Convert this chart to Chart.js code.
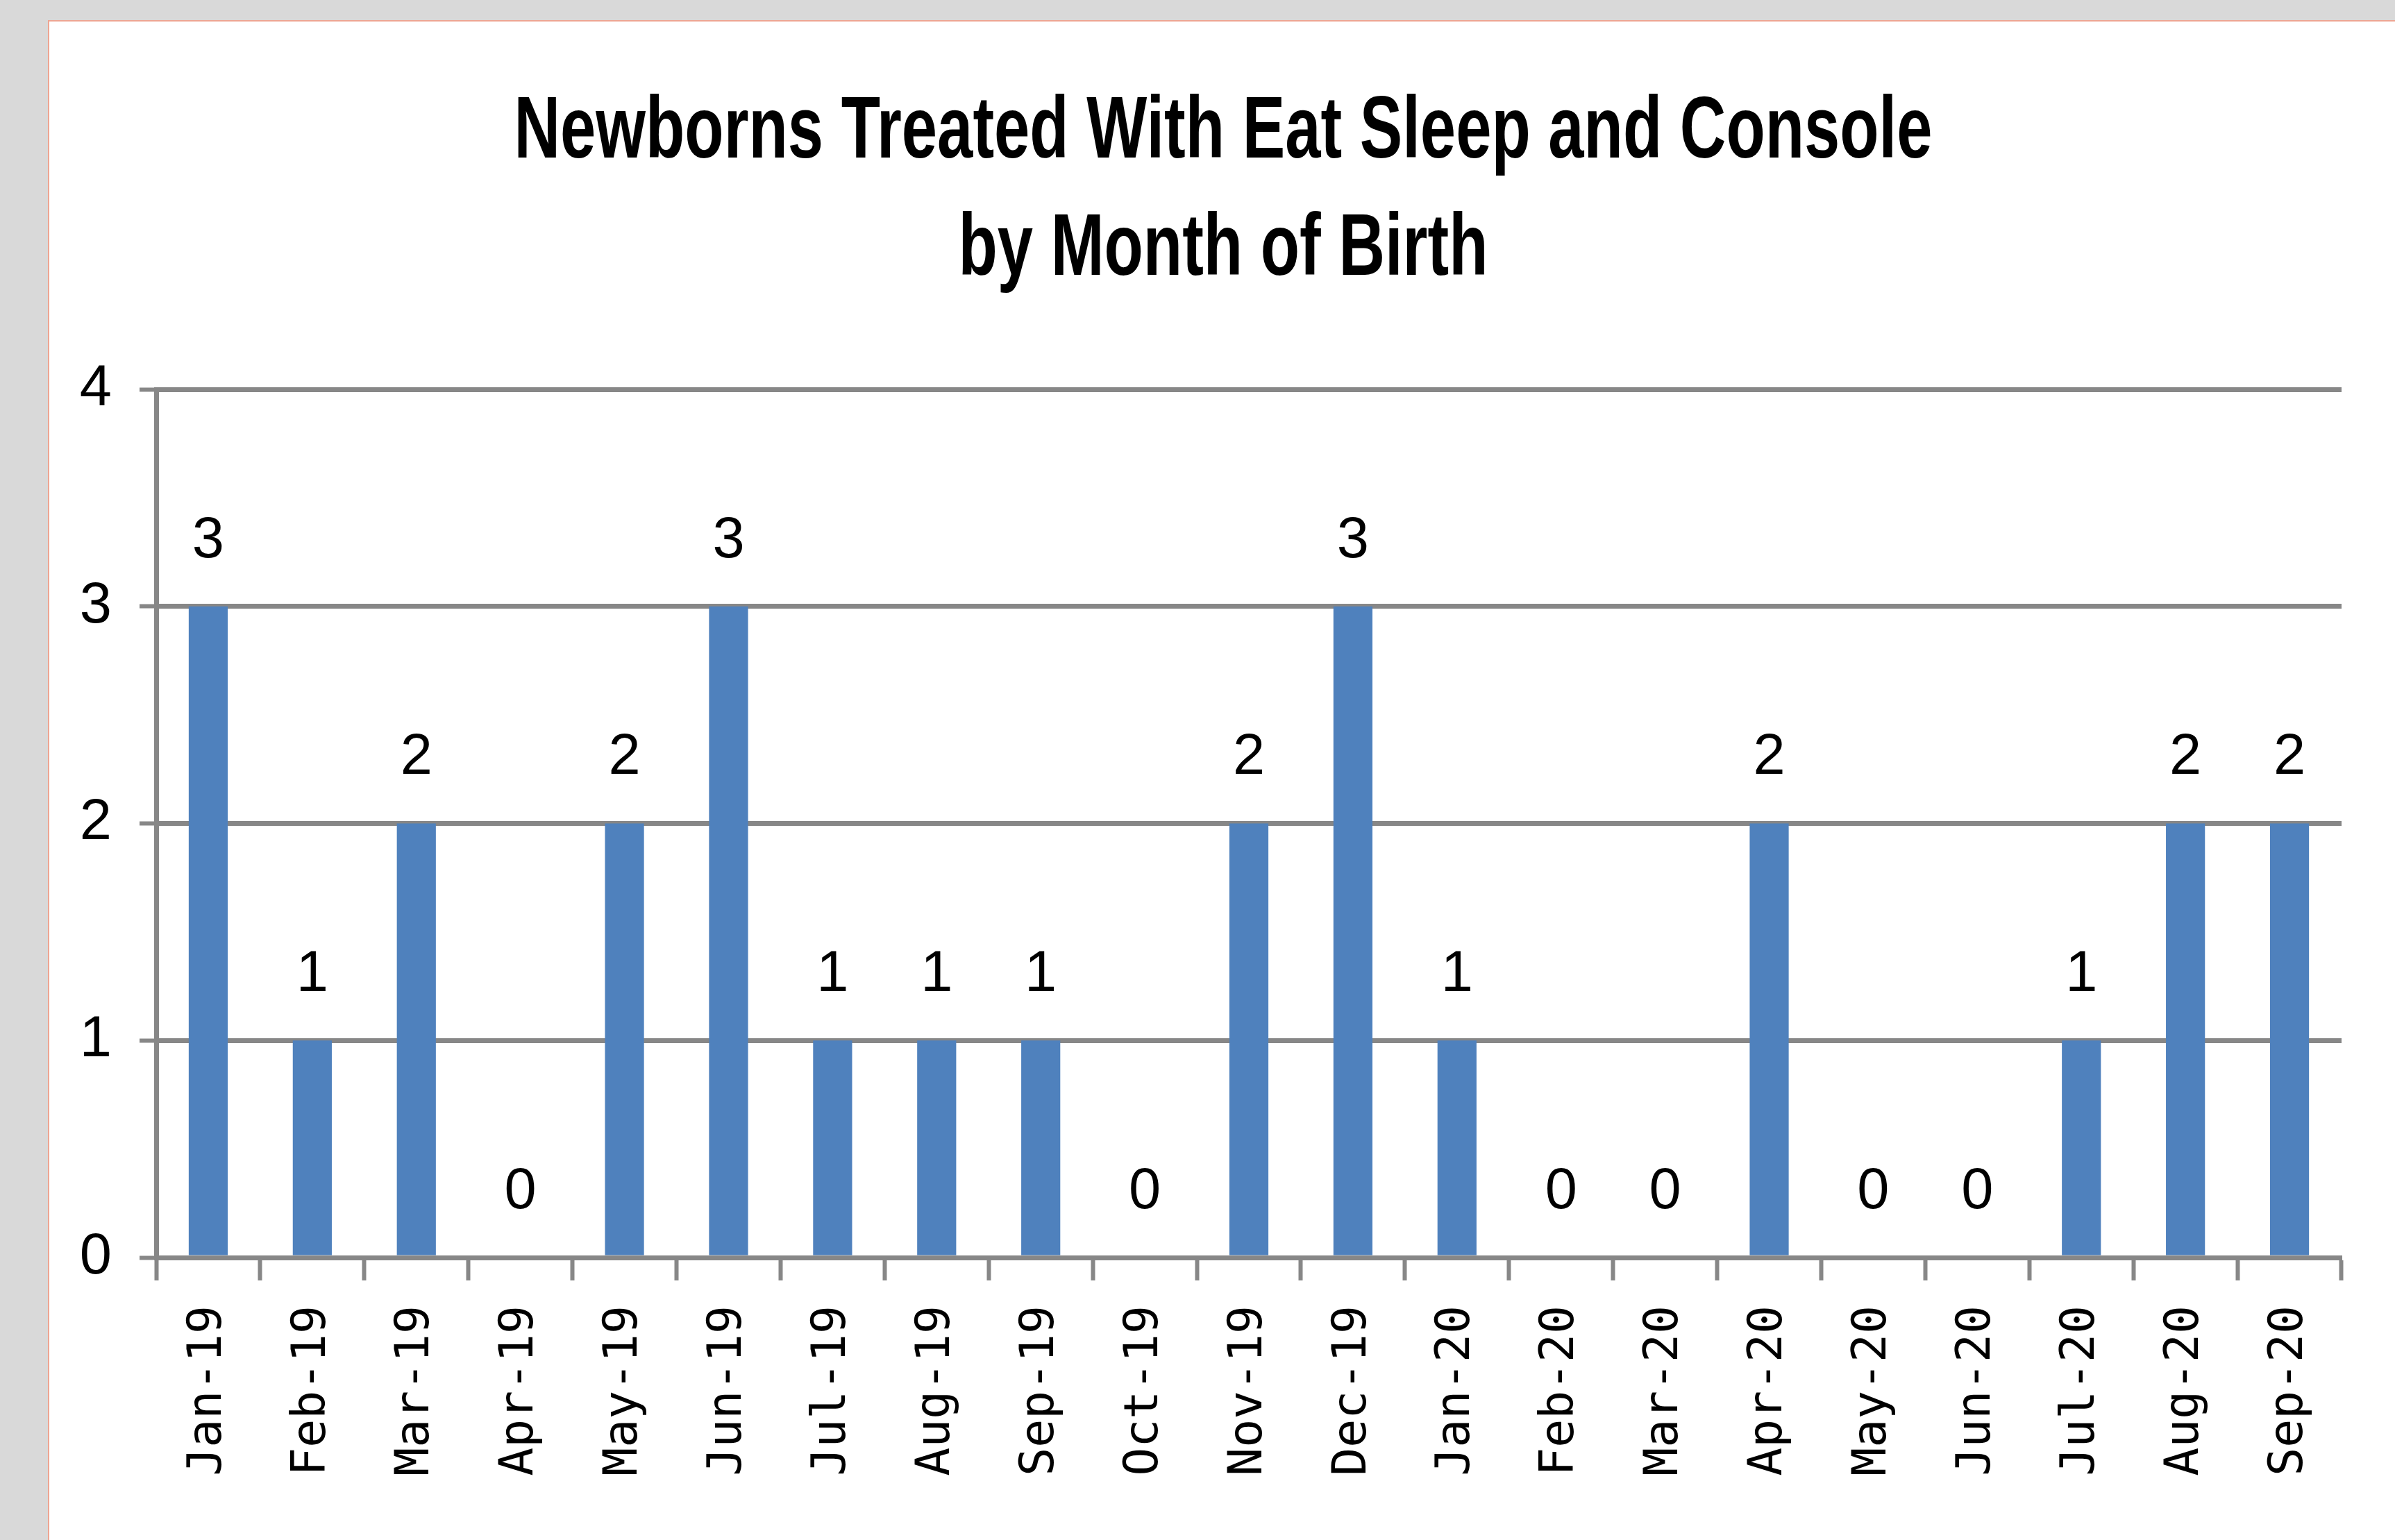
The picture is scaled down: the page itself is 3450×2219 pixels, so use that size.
<!DOCTYPE html>
<html>
<head>
<meta charset="utf-8">
<script src="https://cdn.jsdelivr.net/npm/chart.js@4.4.1/dist/chart.umd.min.js"></script>
<style>
  html, body { margin: 0; padding: 0; background: #d9d9d9; overflow: hidden; }
  #panel {
    position: absolute; left: 69px; top: 29px; width: 3500px; height: 2300px;
    background: #ffffff; border-left: 2px solid #eea592; border-top: 2px solid #eea592;
  }
  #wrap { position: absolute; left: 0; top: 0; width: 3450px; height: 2219px; }
</style>
</head>
<body>
<div id="panel"></div>
<div id="wrap"><canvas id="mycanvas" width="3450" height="2219"></canvas></div>
<script>
// months of birth
var months = ['Jan-19', 'Feb-19', 'Mar-19', 'Apr-19', 'May-19', 'Jun-19', 'Jul-19',
    'Aug-19', 'Sep-19', 'Oct-19', 'Nov-19', 'Dec-19', 'Jan-20', 'Feb-20', 'Mar-20',
    'Apr-20', 'May-20', 'Jun-20', 'Jul-20', 'Aug-20', 'Sep-20'];

// newborns treated per month
var newborns = [3, 1, 2, 0, 2, 3, 1, 1, 1, 0, 2, 3, 1, 0, 0, 2, 0, 0, 1, 2, 2];

var yTicks = [0, 1, 2, 3, 4];

var titleLines = ['Newborns Treated With Eat Sleep and Console', 'by Month of Birth'];

var axisGrey = '#878787';

// value labels above each bar
var barLabels = {
    id: 'barLabels',
    afterDatasetsDraw: function (chart) {
        var ctx = chart.ctx;
        var meta = chart.getDatasetMeta(0);
        ctx.save();
        ctx.font = '83px "Liberation Sans", Arial, sans-serif';
        ctx.fillStyle = '#000000';
        ctx.textAlign = 'center';
        ctx.textBaseline = 'middle';
        meta.data.forEach(function (bar, i) {
            ctx.fillText(String(newborns[i]), bar.x, bar.y - 94);
        });
        ctx.restore();
    }
};

// condensed bold title (no narrow font installed, so squeeze a normal one)
var condensedTitle = {
    id: 'condensedTitle',
    afterDraw: function (chart) {
        var ctx = chart.ctx;
        var cx = 1762;
        var baselines = [227, 396];
        ctx.save();
        ctx.font = 'bold 127px "Liberation Sans", Arial, sans-serif';
        ctx.fillStyle = '#000000';
        ctx.textAlign = 'center';
        ctx.textBaseline = 'alphabetic';
        var squeeze = 2043 / ctx.measureText(titleLines[0]).width;
        titleLines.forEach(function (line, i) {
            ctx.save();
            ctx.translate(cx, baselines[i]);
            ctx.scale(squeeze, 1);
            ctx.fillText(line, 0, 0);
            ctx.restore();
        });
        ctx.restore();
    }
};

var ctx_live = document.getElementById('mycanvas');
var myChart = new Chart(ctx_live, {
    type: 'bar',
    data: {
        labels: months,
        datasets: [{
            data: newborns,
            backgroundColor: '#4f81bd',
            borderWidth: 0,
            barPercentage: 0.375,
            categoryPercentage: 1.0
        }]
    },
    plugins: [barLabels, condensedTitle],
    options: {
        responsive: false,
        animation: false,
        layout: {
            padding: { left: 70, right: 0, top: 561, bottom: 0 }
        },
        plugins: {
            legend: { display: false },
            tooltip: { enabled: false },
            title: { display: false }
        },
        scales: {
            x: {
                grid: {
                    display: true,
                    drawOnChartArea: false,
                    drawTicks: true,
                    tickLength: 33,
                    tickWidth: 6,
                    tickColor: axisGrey,
                    offset: true
                },
                border: { display: true, color: axisGrey, width: 7, z: 1 },
                ticks: {
                    autoSkip: false,
                    minRotation: 90,
                    maxRotation: 90,
                    padding: 36,
                    color: '#000000',
                    font: { family: '"DejaVu Sans Mono", monospace', size: 68 }
                },
                afterFit: function (scale) { scale.height = 407; }
            },
            y: {
                min: 0,
                max: 4,
                grid: {
                    color: axisGrey,
                    lineWidth: 7,
                    tickLength: 24,
                    tickColor: axisGrey,
                    tickWidth: 6
                },
                border: { display: true, color: axisGrey, width: 7 },
                ticks: {
                    stepSize: 1,
                    padding: 40,
                    color: '#000000',
                    font: { family: '"Liberation Sans", Arial, sans-serif', size: 83 },
                    callback: function (v) { return yTicks.indexOf(v) >= 0 ? String(v) : ''; }
                },
                afterFit: function (scale) { scale.width = 155; }
            },
            // spacer on the right so the plot ends before the panel edge
            yRight: {
                position: 'right',
                display: true,
                grid: { display: false },
                border: { display: false },
                ticks: { display: false },
                afterFit: function (scale) { scale.width = 77; }
            }
        }
    }
});
</script>
</body>
</html>
